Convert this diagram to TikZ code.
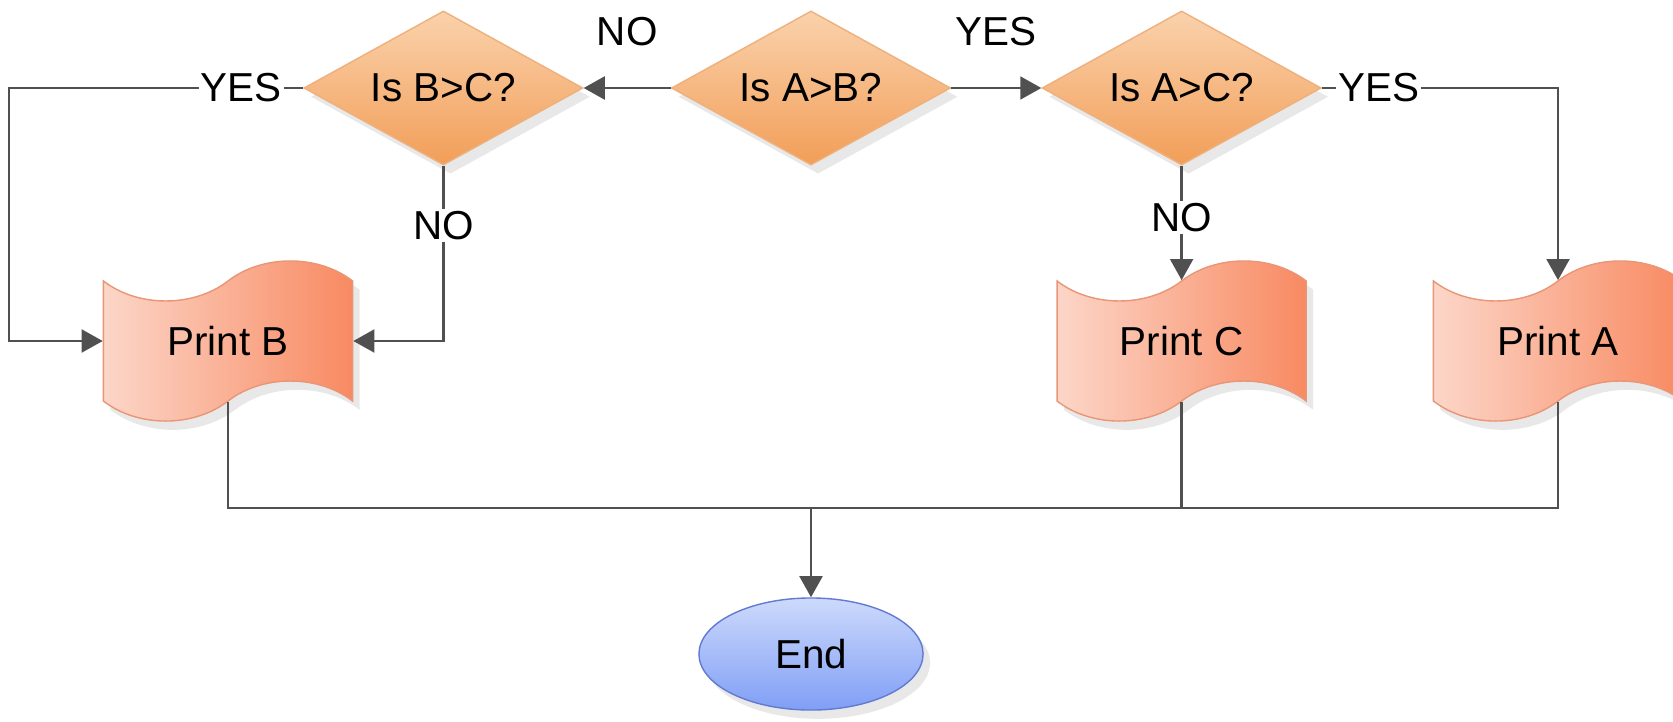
\documentclass[tikz,border=0pt]{standalone}
\usepackage{fontspec}
\setmainfont{Liberation Sans}
\usetikzlibrary{shapes.geometric,shapes.symbols,arrows.meta,shadows,positioning}
\definecolor{lncol}{RGB}{80,80,80}
\definecolor{dmtop}{RGB}{250,210,172}
\definecolor{dmbot}{RGB}{242,158,88}
\definecolor{dmline}{RGB}{238,176,124}
\definecolor{prleft}{RGB}{252,214,200}
\definecolor{prright}{RGB}{248,138,98}
\definecolor{prline}{RGB}{232,150,118}
\definecolor{ndtop}{RGB}{205,218,252}
\definecolor{ndbot}{RGB}{128,158,245}
\definecolor{ndline}{RGB}{98,122,208}

\begin{document}
\begin{tikzpicture}[x=0.01cm,y=-0.01cm,font=\fontsize{11.5}{13}\selectfont,
  dec/.style={diamond,aspect=1.8,draw=dmline,top color=dmtop,bottom color=dmbot,minimum width=2.79cm,minimum height=1.54cm,inner sep=0pt,
    drop shadow={shadow xshift=2pt,shadow yshift=-2.5pt,opacity=.18}},
  prt/.style={tape,draw=prline,left color=prleft,right color=prright,tape bend height=0.4cm,minimum width=2.49cm,minimum height=1.6cm,inner sep=0pt,
    drop shadow={shadow xshift=2pt,shadow yshift=-2.5pt,opacity=.18}},
  term/.style={ellipse,draw=ndline,top color=ndtop,bottom color=ndbot,minimum width=2.24cm,minimum height=1.12cm,inner sep=0pt,
    drop shadow={shadow xshift=2pt,shadow yshift=-2.5pt,opacity=.18}},
  ln/.style={draw=lncol,line width=.75pt},
  arr/.style={ln,-{Triangle[length=6pt,width=6.5pt]}},
  lbl/.style={fill=white,inner sep=0.6pt},
  tag/.style={inner sep=0pt}]
  \useasboundingbox (0,0) rectangle (1673,721);

  \node[dec] (ab) at (811,88) {Is A>B?};
  \node[dec,left=0.87cm] (bc) at (ab.west) {Is B>C?};
  \node[dec,right=0.9cm] (ac) at (ab.east) {Is A>C?};

  \node[prt] (pb) at (228,341) {Print B};
  \node[prt] (pc) at (ac |- 0,341) {Print C};
  \node[prt] (pa) at (1558,341) {Print A};
  \node[term] (stop) at (ab |- 0,654) {End};
  \coordinate (jn) at (stop |- 0,508);

  \draw[arr] (ab.west) -- node[tag,above=0.41cm] {NO} (bc.east);
  \draw[arr] (ab.east) -- node[tag,above=0.41cm] {YES} (ac.west);

  \draw[arr] (bc.west) -- node[lbl,pos=.21] {YES} ++(-294,0) |- (pb.west);
  \draw[arr] (bc.south) |- node[lbl,pos=.17] {NO} (pb.east);
  \draw[arr] (ac.east) -| node[lbl,pos=.12] {YES} (pa.north);
  \draw[arr] (ac.south) -- node[lbl,pos=.45] {NO} (pc.north);

  \draw[ln] (pb.south) |- (jn) -| (pa.south);
  \draw[ln] (pc.south) -- (pc.south |- jn);
  \draw[arr] (jn) -- (stop.north);
\end{tikzpicture}
\end{document}
